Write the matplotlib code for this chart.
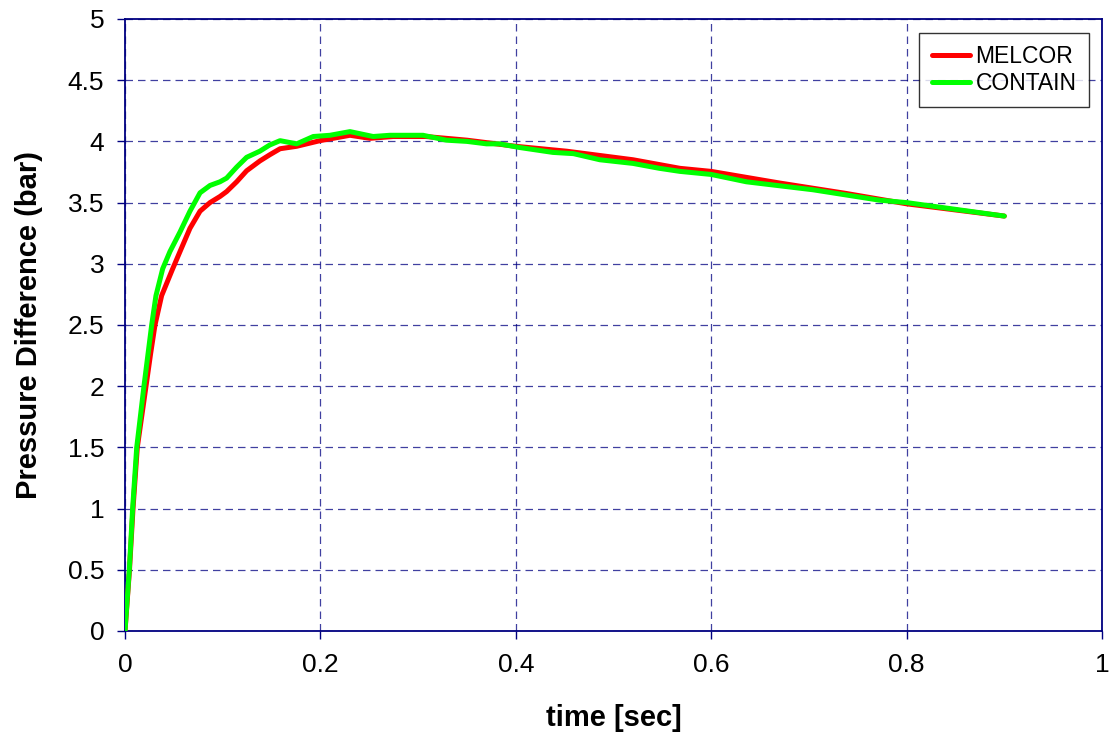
import matplotlib
matplotlib.use("Agg")
import matplotlib.pyplot as plt

NAVY = "#000080"

# MELCOR curve (time [s], pressure difference [bar])
t_melcor = [0, 0.0046, 0.0082, 0.0126, 0.0215, 0.0263, 0.0307, 0.0375, 0.0483, 0.0563,
            0.0665, 0.0768, 0.087, 0.0972, 0.104, 0.1143, 0.1245, 0.138, 0.148, 0.1587,
            0.1757, 0.1996, 0.2303, 0.2508, 0.2746, 0.308, 0.35, 0.4, 0.452, 0.52,
            0.568, 0.6, 0.67, 0.738, 0.8, 0.9]
p_melcor = [0, 0.5, 1.0, 1.5, 2.0, 2.27, 2.5, 2.74, 2.95, 3.10,
            3.29, 3.43, 3.50, 3.55, 3.59, 3.67, 3.76, 3.84, 3.89, 3.94,
            3.96, 4.006, 4.05, 4.025, 4.04, 4.04, 4.01, 3.96, 3.92, 3.85,
            3.78, 3.755, 3.66, 3.575, 3.49, 3.39]

# CONTAIN curve
t_contain = [0, 0.0044, 0.0078, 0.012, 0.0194, 0.0273, 0.0317, 0.0386, 0.046, 0.0563,
             0.0665, 0.0768, 0.087, 0.0972, 0.104, 0.1143, 0.1245, 0.138, 0.148, 0.1587,
             0.1757, 0.1927, 0.2098, 0.2303, 0.254, 0.271, 0.2917, 0.305, 0.329, 0.35,
             0.37, 0.383, 0.404, 0.438, 0.459, 0.486, 0.52, 0.547, 0.568, 0.6,
             0.636, 0.704, 0.772, 0.8, 0.9]
p_contain = [0, 0.5, 1.0, 1.5, 2.0, 2.5, 2.74, 2.96, 3.10, 3.26,
             3.43, 3.58, 3.64, 3.67, 3.70, 3.79, 3.87, 3.92, 3.97, 4.006,
             3.98, 4.04, 4.05, 4.08, 4.04, 4.05, 4.05, 4.05, 4.01, 4.0,
             3.98, 3.98, 3.95, 3.91, 3.9, 3.85, 3.82, 3.78, 3.755, 3.73,
             3.67, 3.605, 3.52, 3.5, 3.39]

xticks = [0, 0.2, 0.4, 0.6, 0.8, 1]
xticklabels = ["0", "0.2", "0.4", "0.6", "0.8", "1"]
yticks = [0, 0.5, 1, 1.5, 2, 2.5, 3, 3.5, 4, 4.5, 5]
yticklabels = ["0", "0.5", "1", "1.5", "2", "2.5", "3", "3.5", "4", "4.5", "5"]

plt.rcParams["font.family"] = ["Liberation Sans", "DejaVu Sans"]

fig = plt.figure(figsize=(11.12, 7.4), dpi=100)
ax = fig.add_axes([125 / 1112, 109 / 740, 977 / 1112, 612 / 740])

ax.plot(t_melcor, p_melcor, color="#ff0000", lw=3.6, label="MELCOR",
        solid_capstyle="round", solid_joinstyle="round", zorder=3)
ax.plot(t_contain, p_contain, color="#00ff00", lw=3.6, label="CONTAIN",
        solid_capstyle="round", solid_joinstyle="round", zorder=4)

ax.set_xlim(0, 1)
ax.set_ylim(0, 5)
ax.set_xticks(xticks)
ax.set_xticklabels(xticklabels)
ax.set_yticks(yticks)
ax.set_yticklabels(yticklabels)

ax.grid(True, color=NAVY, lw=0.9, ls=(0, (6, 4)), alpha=0.75)
ax.set_axisbelow(True)
for s in ax.spines.values():
    s.set_color(NAVY)
    s.set_linewidth(1.3)

ax.tick_params(axis="both", direction="out", length=6, width=1, color=NAVY,
               labelsize=19, labelcolor="black")
ax.tick_params(axis="x", pad=10)
ax.tick_params(axis="y", pad=9)

ax.set_xlabel("time [sec]", fontsize=21, fontweight="bold", labelpad=19)
ax.set_ylabel("Pressure Difference (bar)", fontsize=21, fontweight="bold", labelpad=18)

leg = ax.legend(loc="upper right", fontsize=16.5, frameon=True, fancybox=False,
                handlelength=1.65, handletextpad=0.25, borderpad=0.55,
                labelspacing=0.15, borderaxespad=0,
                bbox_to_anchor=(0.9867, 0.9776))
leg.get_frame().set_edgecolor("black")
leg.get_frame().set_linewidth(1.0)

fig.savefig("out.png", dpi=100)
